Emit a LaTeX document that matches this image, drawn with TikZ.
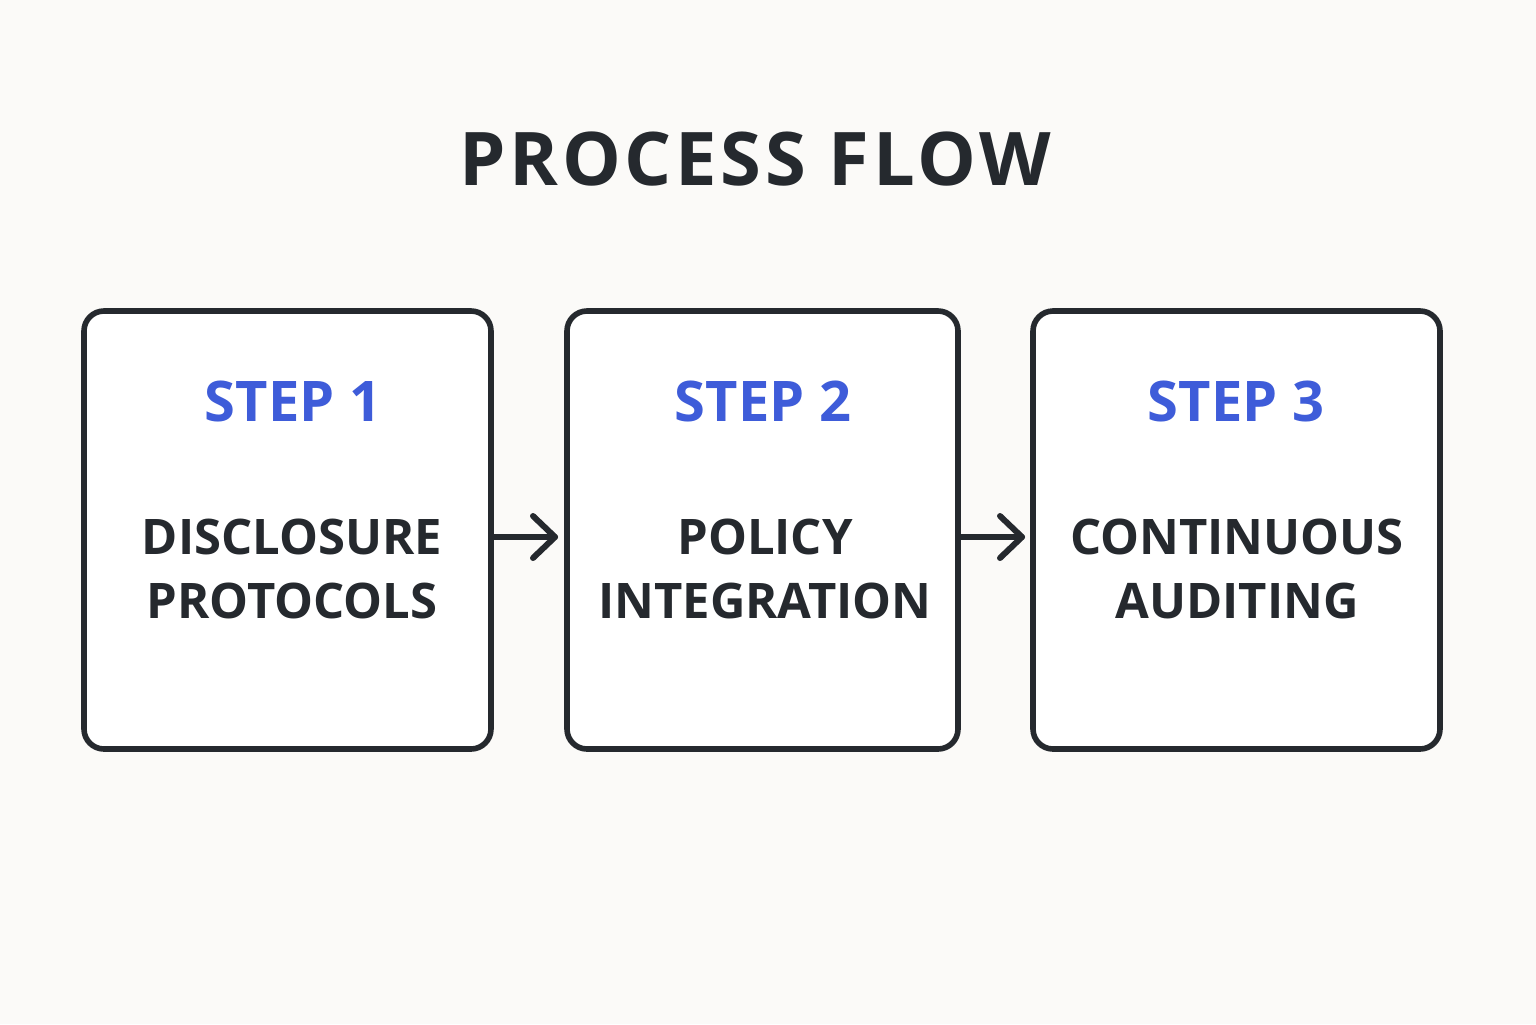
\documentclass[tikz,border=0pt]{standalone}
\usepackage{fontspec}
\setmainfont{Open Sans}
\usetikzlibrary{arrows.meta}
\definecolor{bg}{HTML}{FBFAF8}
\definecolor{ink}{HTML}{25292E}
\definecolor{stepblue}{HTML}{3E5CD9}
\tikzset{
  stepbox/.style={draw=ink, line width=2.8pt, rounded corners=10pt, fill=white},
  steplabel/.style={text=stepblue, font=\fontsize{28}{32}\selectfont\bfseries, anchor=center},
  bodytext/.style={text=ink, font=\fontsize{24.5}{32}\selectfont\bfseries, align=center, anchor=center},
  flow/.style={draw=ink, line width=3pt, line cap=round, line join=round},
}
\begin{document}
\begin{tikzpicture}[x=0.5pt,y=-0.5pt]
\fill[bg] (0,0) rectangle (1536,1024);
\useasboundingbox (0,0) rectangle (1536,1024);
\node[text=ink, font=\fontsize{37}{40}\selectfont\bfseries\addfontfeature{LetterSpace=5}] (title) at (755,159) {PROCESS FLOW};
\draw[stepbox] (84,311) rectangle (491,749);
\draw[stepbox] (567,311) rectangle (958,749);
\draw[stepbox] (1033,311) rectangle (1440,749);
\coordinate (b1r) at (491,537);
\coordinate (b2l) at (555,537);
\coordinate (b2r) at (958,537);
\coordinate (b3l) at (1022,537);
\node[steplabel] (s1) at (293,401) {STEP 1};
\node[steplabel] (s2) at (763,401) {STEP 2};
\node[steplabel] (s3) at (1236,401) {STEP 3};
\node[bodytext] (t1) at (292,569) {DISCLOSURE\\PROTOCOLS};
\node[bodytext] (t2) at (765,569) {POLICY\\INTEGRATION};
\node[bodytext] (t3) at (1237,569) {CONTINUOUS\\AUDITING};
\draw[flow] (b1r) -- (b2l);
\draw[flow] ([shift={(-22,-21)}]b2l) -- (b2l) -- ([shift={(-22,21)}]b2l);
\draw[flow] (b2r) -- (b3l);
\draw[flow] ([shift={(-22,-21)}]b3l) -- (b3l) -- ([shift={(-22,21)}]b3l);
\end{tikzpicture}
\end{document}
